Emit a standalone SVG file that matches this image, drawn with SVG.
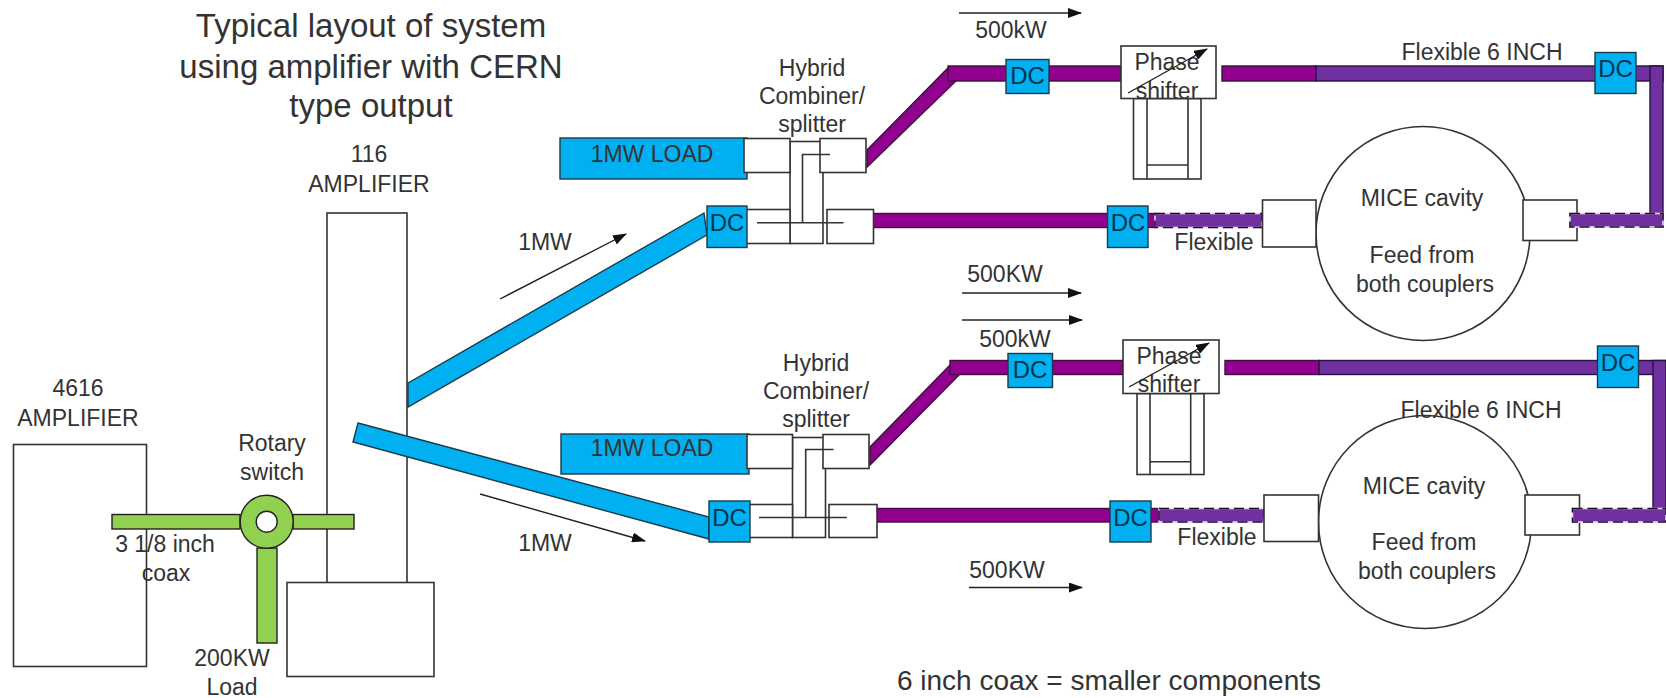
<svg xmlns="http://www.w3.org/2000/svg" width="1666" height="698" viewBox="0 0 1666 698">
<style>
text{font-family:"Liberation Sans",Arial,sans-serif;font-size:23px;fill:#333;text-anchor:middle;dominant-baseline:central}
.title{font-size:33px}
.note{font-size:28px}
.dc{fill:#00374f;font-size:24px}
.box{fill:#fff;stroke:#333;stroke-width:1.6}
.nf{fill:none;stroke:#333;stroke-width:1.6}
.blue{fill:#00b0f0;stroke:#1a3a4a;stroke-width:1.4}
.green{fill:#92d050;stroke:#222;stroke-width:1.4}
.mag{fill:#92008f;stroke:#3a103a;stroke-width:1.4}
.vio{fill:#7030a0;stroke:#2a1040;stroke-width:1.4}
.dashbg{fill:#7030a0;stroke:#ecd4f2;stroke-width:1.6}
.dash{fill:none;stroke:#1c0c2a;stroke-width:1.6;stroke-dasharray:10 5}
.arr{fill:none;stroke:#222;stroke-width:1.4;marker-end:url(#ah)}
</style>
<defs>
<marker id="ah" markerUnits="userSpaceOnUse" markerWidth="14" markerHeight="10" refX="13" refY="5" orient="auto"><path d="M0 0L14 5L0 10z" fill="#111"/></marker>
</defs>
<rect width="1666" height="698" fill="#fff"/>
<text class="title" x="371" y="25">Typical layout of system</text>
<text class="title" x="371" y="66">using amplifier with CERN</text>
<text class="title" x="371" y="105">type output</text>
<g id="amp4616"><rect class="box" x="13.5" y="444.5" width="133" height="222"/><text x="78" y="388">4616</text><text x="78" y="418">AMPLIFIER</text></g>
<g id="amp116"><rect class="box" x="327" y="213" width="80" height="370"/><rect class="box" x="287" y="582.5" width="147" height="94"/><text x="369" y="154">116</text><text x="369" y="184">AMPLIFIER</text></g>
<g id="connectors">
<path class="blue" d="M408 383L704 213L707 235L408 407z"/>
<path class="blue" d="M358 423L709 517V539L353 442z"/>
<rect class="green" x="112" y="514.5" width="128" height="14.5"/>
<rect class="green" x="293" y="514.5" width="61" height="14.5"/>
<rect class="green" x="257" y="548" width="20" height="95"/>
<path class="mag" d="M867 150L948 68L956 81L867 167z"/>
<rect class="mag" x="948" y="66" width="173" height="15"/>
<rect class="mag" x="1222" y="66" width="94" height="15"/>
<rect class="vio" x="1316" y="66" width="347" height="15"/>
<rect class="vio" x="1650" y="66" width="13" height="161"/>
<rect class="mag" x="873" y="213.5" width="282" height="14"/>
<rect class="dashbg" x="1155" y="213.5" width="107" height="14"/>
<rect class="dash" x="1155" y="213.5" width="107" height="14"/>
<path class="mag" d="M870 447L950 365L959 375L870 465z"/>
<rect class="mag" x="950" y="360.5" width="173" height="14"/>
<rect class="mag" x="1225" y="360.5" width="94" height="14"/>
<rect class="vio" x="1319" y="360.5" width="347" height="14"/>
<rect class="vio" x="1653" y="360.5" width="13" height="161"/>
<rect class="mag" x="877" y="508.5" width="282" height="13.5"/>
<rect class="dashbg" x="1159" y="508.5" width="105" height="13.5"/>
<rect class="dash" x="1159" y="508.5" width="105" height="13.5"/>
<path class="arr" d="M959 13H1081"/>
<path class="arr" d="M962 293H1081"/>
<path class="arr" d="M962 320H1082"/>
<path class="arr" d="M969 587.5H1082"/>
<path class="arr" d="M500 299L626 234"/>
<path class="arr" d="M480 494L645 541"/>
</g>
<g id="rotary"><circle cx="266.7" cy="521.7" r="26.5" class="green"/><circle cx="266.7" cy="521.7" r="10.5" fill="#fff" stroke="#222" stroke-width="1.4"/><text x="272" y="443">Rotary</text><text x="272" y="472">switch</text></g>
<text x="165" y="544">3 1/8 inch</text><text x="166" y="573">coax</text>
<text x="232" y="658">200KW</text><text x="232" y="687">Load</text>
<text x="545" y="242">1MW</text><text x="545" y="543">1MW</text>
<g id="load1"><rect class="blue" x="560" y="138" width="187" height="41"/><text x="652" y="154">1MW LOAD</text></g>
<g id="load2"><rect class="blue" x="561" y="434" width="188" height="40"/><text x="652" y="448">1MW LOAD</text></g>
<g id="hybrid1">
<rect class="box" x="790" y="141.500" width="33" height="102"/>
<rect class="box" x="744" y="138.500" width="46" height="34"/>
<rect class="box" x="820" y="138.500" width="46" height="34"/>
<rect class="box" x="744" y="209.500" width="46" height="34"/>
<rect class="box" x="827" y="209.500" width="46.500" height="34"/>
<path class="nf" d="M830 154.500H802.500V222.700M757 222.700H843.600"/>
<text x="812" y="68">Hybrid</text><text x="812" y="96">Combiner/</text><text x="812" y="124">splitter</text>
</g>
<g id="hybrid2">
<rect class="box" x="792.500" y="437.500" width="33" height="100"/>
<rect class="box" x="747" y="434.500" width="45.500" height="34"/>
<rect class="box" x="823" y="434.500" width="46" height="34"/>
<rect class="box" x="747" y="504.500" width="45.500" height="33"/>
<rect class="box" x="829" y="504.500" width="48" height="33"/>
<path class="nf" d="M833.600 449.500H805.700V517.500M759 517.500H846.800"/>
<text x="816" y="363">Hybrid</text><text x="816" y="391">Combiner/</text><text x="816" y="419">splitter</text>
</g>
<g id="dc1"><rect class="blue" x="707" y="206" width="40" height="41.500"/><text class="dc" x="727" y="222">DC</text></g>
<g id="dc2"><rect class="blue" x="1006" y="59.500" width="43" height="34"/><text class="dc" x="1027.500" y="75">DC</text></g>
<g id="dc3"><rect class="blue" x="1107.500" y="206" width="40.500" height="41.500"/><text class="dc" x="1128" y="222">DC</text></g>
<g id="dc4"><rect class="blue" x="1595" y="52.500" width="41" height="41"/><text class="dc" x="1615.500" y="68">DC</text></g>
<g id="dc5"><rect class="blue" x="709" y="501" width="41" height="41"/><text class="dc" x="729.500" y="517">DC</text></g>
<g id="dc6"><rect class="blue" x="1008" y="353.500" width="44.500" height="34"/><text class="dc" x="1030" y="369">DC</text></g>
<g id="dc7"><rect class="blue" x="1110" y="501" width="41" height="41"/><text class="dc" x="1130.500" y="517">DC</text></g>
<g id="dc8"><rect class="blue" x="1597.500" y="346" width="41" height="41.500"/><text class="dc" x="1618" y="362">DC</text></g>
<g id="phase1">
<rect class="box" x="1133.500" y="98.500" width="67.500" height="80.500"/>
<path class="nf" d="M1147 98.500V179M1188 98.500V179M1147 165H1188"/>
<rect class="box" x="1121" y="46" width="95" height="52.500"/>
<text x="1167" y="62">Phase</text><text x="1167" y="91">shifter</text>
<path class="arr" d="M1128 93L1207 49"/>
</g>
<g id="phase2">
<rect class="box" x="1137" y="393.500" width="67" height="81"/>
<path class="nf" d="M1150 393.500V474.500M1190.700 393.500V474.500M1150 461.700H1190.700"/>
<rect class="box" x="1123" y="340" width="96" height="53.500"/>
<text x="1169" y="356">Phase</text><text x="1169" y="384">shifter</text>
<path class="arr" d="M1129 387L1209 343"/>
</g>
<g id="cavity1">
<circle cx="1423" cy="233.500" r="107" class="box"/>
<rect class="box" x="1262.500" y="200" width="53.500" height="47"/>
<rect class="box" x="1523" y="200" width="54" height="40.500"/>
<text x="1422" y="198">MICE cavity</text><text x="1422" y="255">Feed from</text><text x="1425" y="284">both couplers</text>
</g>
<rect class="dashbg" x="1570" y="213.500" width="93" height="13.500"/>
<rect class="dash" x="1570" y="213.500" width="93" height="13.500"/>
<g id="cavity2">
<circle cx="1425" cy="522" r="106.500" class="box"/>
<rect class="box" x="1264" y="495" width="54.500" height="46.500"/>
<rect class="box" x="1525" y="495" width="54.500" height="40"/>
<text x="1424" y="486">MICE cavity</text><text x="1424" y="542">Feed from</text><text x="1427" y="571">both couplers</text>
</g>
<rect class="dashbg" x="1572.500" y="508.500" width="93.500" height="13.500"/>
<rect class="dash" x="1572.500" y="508.500" width="93.500" height="13.500"/>
<text x="1482" y="52">Flexible 6 INCH</text>
<text x="1481" y="410">Flexible 6 INCH</text>
<text x="1214" y="242">Flexible</text>
<text x="1217" y="537">Flexible</text>
<text x="1011" y="30">500kW</text>
<text x="1005" y="274">500KW</text>
<text x="1015" y="339">500kW</text>
<text x="1007" y="570">500KW</text>
<text class="note" x="1109" y="680">6 inch coax = smaller components</text>
</svg>
